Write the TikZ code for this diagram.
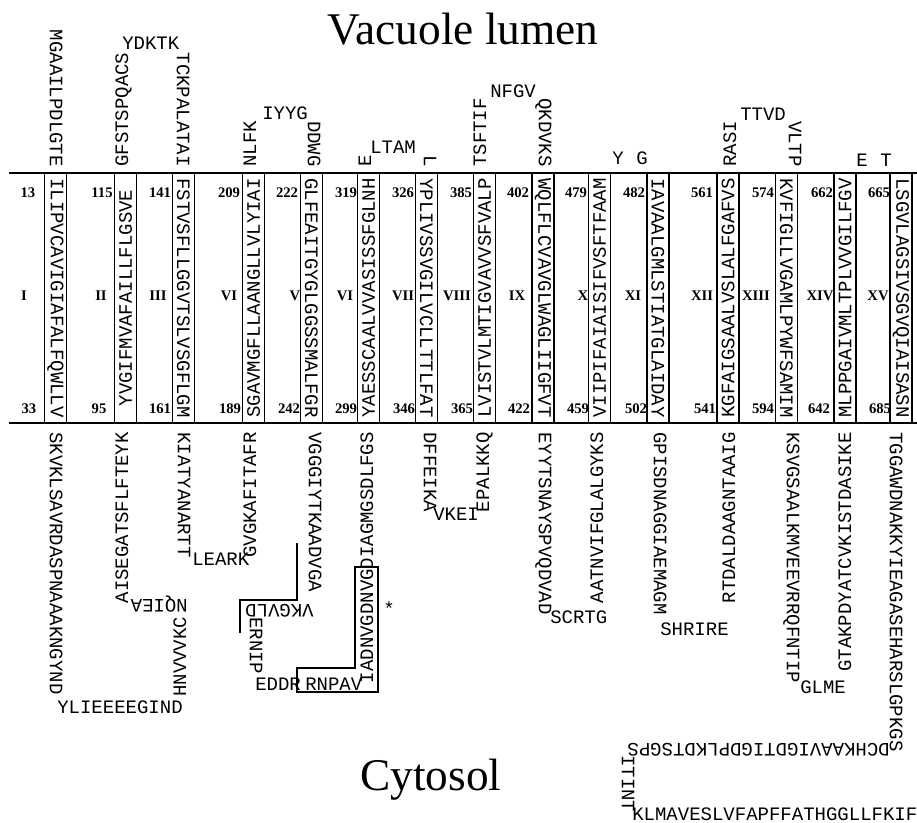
\documentclass[tikz,border=0pt]{standalone}
\usepackage{fontspec}
\setmainfont{Liberation Serif}
\newfontfamily\monofam{Liberation Mono}
\newcommand{\seqfont}{\monofam\fontsize{14.25}{16}\selectfont}
\newcommand{\numfont}{\fontsize{11}{13}\selectfont\bfseries}
\newcommand{\titlefont}{\fontsize{34}{40}\selectfont}
\newcommand{\tmh}[4]{%
  \draw[helixbox] ({#2-11},173) rectangle ({#2+11},423);
  \node[seq, rotate=#3] (#1) at (#2,298) {#4};}
\begin{document}
\begin{tikzpicture}[x=0.75pt,y=-0.75pt,
  seq/.style={font=\seqfont, inner sep=0pt},
  dn/.style={seq, rotate=-90},
  upw/.style={seq, rotate=90},
  flp/.style={seq, rotate=180},
  num/.style={font=\numfont, inner sep=0pt},
  helixbox/.style={draw, line width=1.3pt},
  membrane/.style={line width=2.2pt},
  loopline/.style={line width=1.1pt}]
\useasboundingbox (0,0) rectangle (917,823);

% titles
\node[font=\titlefont, anchor=base, inner sep=0pt] (title) at (463,45) {Vacuole lumen};
\node[font=\titlefont, anchor=base, inner sep=0pt] (cyto) at (431,790) {Cytosol};

% membrane
\draw[membrane] (9,173) -- (917,173);
\draw[membrane] (9,423) -- (917,423);

% helices
\tmh{h1}{55.5}{-90}{ILIPVCAVIGIAFALFQWLLV}
\tmh{h2}{125.5}{90}{YVGIFMVAFAILLFLGSVE}
\tmh{h3}{183.5}{-90}{FSTVSFLLGGVTSLVSGFLGM}
\tmh{h4}{253.5}{90}{SGAVMGFLLAANGLLVLYIAI}
\tmh{h5}{311.5}{-90}{GLFEAITGYGLGGSSMALFGR}
\tmh{h6}{368.5}{90}{YAESSCAALVVASISSFGLNH}
\tmh{h7}{426.5}{-90}{YPLIVSSVGILVCLLTTLFAT}
\tmh{h8}{484.5}{90}{LVISTVLMTIGVAVVSFVALP}
\tmh{h9}{543}{-90}{WQLFLCVAVGLWAGLIIGFVT}
\tmh{h10}{599.5}{90}{VIIPIFAIAISIFVSFTFAAM}
\tmh{h11}{658}{-90}{IAVAALGMLSTIATGLAIDAY}
\tmh{h12}{728}{90}{KGFAIGSAALVSLALFGAFVS}
\tmh{h13}{786.5}{-90}{KVFIGLLVGAMLPYWFSAMIM}
\tmh{h14}{845}{90}{MLPPGAIVMLTPLVVGILFGV}
\tmh{h15}{901}{-90}{LSGVLAGSIVSGVQIAISASN}

% numbers top
\node[num] (t13) at (28,193) {13};
\node[num] (t115) at (102,193) {115};
\node[num] (t141) at (160,193) {141};
\node[num] (t209) at (229,193) {209};
\node[num] (t222) at (287,193) {222};
\node[num] (t319) at (346,193) {319};
\node[num] (t326) at (403,193) {326};
\node[num] (t385) at (461,193) {385};
\node[num] (t402) at (518,193) {402};
\node[num] (t479) at (576,193) {479};
\node[num] (t482) at (634,193) {482};
\node[num] (t561) at (702,193) {561};
\node[num] (t574) at (763,193) {574};
\node[num] (t662) at (822,193) {662};
\node[num] (t665) at (879,193) {665};
% roman
\node[num] (r1) at (24,296) {I};
\node[num] (r2) at (101,296) {II};
\node[num] (r3) at (158,296) {III};
\node[num] (r4) at (229,296) {VI};
\node[num] (r5) at (295,296) {V};
\node[num] (r6) at (345,296) {VI};
\node[num] (r7) at (403,296) {VII};
\node[num] (r8) at (457,296) {VIII};
\node[num] (r9) at (517,296) {IX};
\node[num] (r10) at (583,296) {X};
\node[num] (r11) at (633,296) {XI};
\node[num] (r12) at (702,296) {XII};
\node[num] (r13) at (756,296) {XIII};
\node[num] (r14) at (820,296) {XIV};
\node[num] (r15) at (878,296) {XV};
% numbers bottom
\node[num] (b33) at (29,409) {33};
\node[num] (b95) at (99,409) {95};
\node[num] (b161) at (160,409) {161};
\node[num] (b189) at (230,409) {189};
\node[num] (b242) at (289,409) {242};
\node[num] (b299) at (346,409) {299};
\node[num] (b346) at (404,409) {346};
\node[num] (b365) at (462,409) {365};
\node[num] (b422) at (519,409) {422};
\node[num] (b459) at (578,409) {459};
\node[num] (b502) at (636,409) {502};
\node[num] (b541) at (705,409) {541};
\node[num] (b594) at (763,409) {594};
\node[num] (b642) at (819,409) {642};
\node[num] (b685) at (880,409) {685};

% vacuolar loops
\node[dn, anchor=mid east] (v0) at (53,167) {MGAAILPDLGTE};
\node[upw, anchor=mid west] (v1a) at (125,167) {GFSTSPQACS};
\node[seq, anchor=mid west] (v1b) at (122,46) {YDKTK};
\node[dn, anchor=mid east] (v1c) at (180,167) {TCKPALATAI};
\node[upw, anchor=mid west] (v2a) at (253,167) {NLFK};
\node[seq, anchor=mid west] (v2b) at (262,116) {IYYG};
\node[dn, anchor=mid east] (v2c) at (311,167) {DDWG};
\node[upw, anchor=mid west] (v3a) at (368,167) {E};
\node[seq, anchor=mid west] (v3b) at (370,150) {LTAM};
\node[dn, anchor=mid east] (v3c) at (427,167) {L};
\node[upw, anchor=mid west] (v4a) at (483,167) {TSFTIF};
\node[seq, anchor=mid west] (v4b) at (490,94) {NFGV};
\node[dn, anchor=mid east] (v4c) at (542,167) {QKDVKS};
\node[seq] (v5a) at (618,158) {Y};
\node[seq] (v5b) at (642,158) {G};
\node[upw, anchor=mid west] (v6a) at (733,167) {RASI};
\node[seq, anchor=mid west] (v6b) at (740,117) {TTVD};
\node[dn, anchor=mid east] (v6c) at (792,167) {VLTP};
\node[seq] (v7a) at (862,160) {E};
\node[seq] (v7b) at (886,160) {T};

% cytosolic loops
\node[dn, anchor=mid west] (c1a) at (53,432) {SKVKLSAVRDASPNAAAKNGYND};
\node[seq, anchor=mid west] (c1b) at (57,710) {YLIEEEEGIND};
\node[upw, anchor=mid west] (c1c) at (183,697) {HNVVVKC};
\node[flp, anchor=mid west] (c1d) at (188,603) {NQIEA};
\node[upw, anchor=mid east] (c1e) at (125,432) {AISEGATSFLFTEYK};

\node[dn, anchor=mid west] (c2a) at (181,432) {KIATYANARTT};
\node[seq, anchor=mid west] (c2b) at (192,562) {LEARK};
\node[upw, anchor=mid east] (c2c) at (253,432) {GVGKAFITAFR};

\node[dn, anchor=mid west] (c3a) at (312,432) {VGGGIYTKAADVGA};
\node[flp, anchor=mid west] (c3b) at (314,608) {VKGVLD};
\node[dn, anchor=mid west] (c3c) at (253,617) {ERNIP};
\node[seq, anchor=mid west] (c3d) at (255,687) {EDDR};
\node[seq, anchor=mid west] (c3e) at (305,687) {RNPAV};
\node[upw, anchor=mid east] (c3f) at (370,432) {IADNVGDNVGDIAGMGSDLFGS};
\node[font=\seqfont, inner sep=0pt] (star) at (389,609) {*};

\node[dn, anchor=mid west] (c4a) at (427,432) {DFFEIKA};
\node[seq, anchor=mid west] (c4b) at (433,517) {VKEI};
\node[upw, anchor=mid east] (c4c) at (486,432) {EPALKKQ};

\node[dn, anchor=mid west] (c5a) at (542,432) {EYYTSNAYSPVQDVAD};
\node[seq, anchor=mid west] (c5b) at (550,620) {SCRTG};
\node[upw, anchor=mid east] (c5c) at (600,432) {AATNVIFGLALGYKS};

\node[dn, anchor=mid west] (c6a) at (657,432) {GPISDNAGGIAEMAGM};
\node[seq, anchor=mid west] (c6b) at (660,632) {SHRIRE};
\node[upw, anchor=mid east] (c6c) at (732,432) {RTDALDAAGNTAAIG};

\node[dn, anchor=mid west] (c7a) at (790,432) {KSVGSAALKMVEEVRRQFNTIP};
\node[seq, anchor=mid west] (c7b) at (800,690) {GLME};
\node[upw, anchor=mid east] (c7c) at (848,432) {GTAKPDYATCVKISTDASIKE};

\node[dn, anchor=mid west] (c8a) at (893,432) {TGGAWDNAKKYIEAGASEHARSLGPKGS};
\node[flp, anchor=mid west] (c8b) at (890,747) {DCHKAAVIGDTIGDPLKDTSGPS};
\node[dn, anchor=mid west] (c8c) at (625,755) {ITINT};
\node[seq, anchor=mid west] (c8d) at (632,817) {KLMAVESLVFAPFFATHGGLLFKIF};

% extra lines
\draw[loopline] (297,543) -- (297,600) -- (240,600) -- (240,633);
\draw[loopline] (355,567) -- (378,567) -- (378,692) -- (297,692) -- (297,668) -- (355,668) -- cycle;
\end{tikzpicture}
\end{document}
